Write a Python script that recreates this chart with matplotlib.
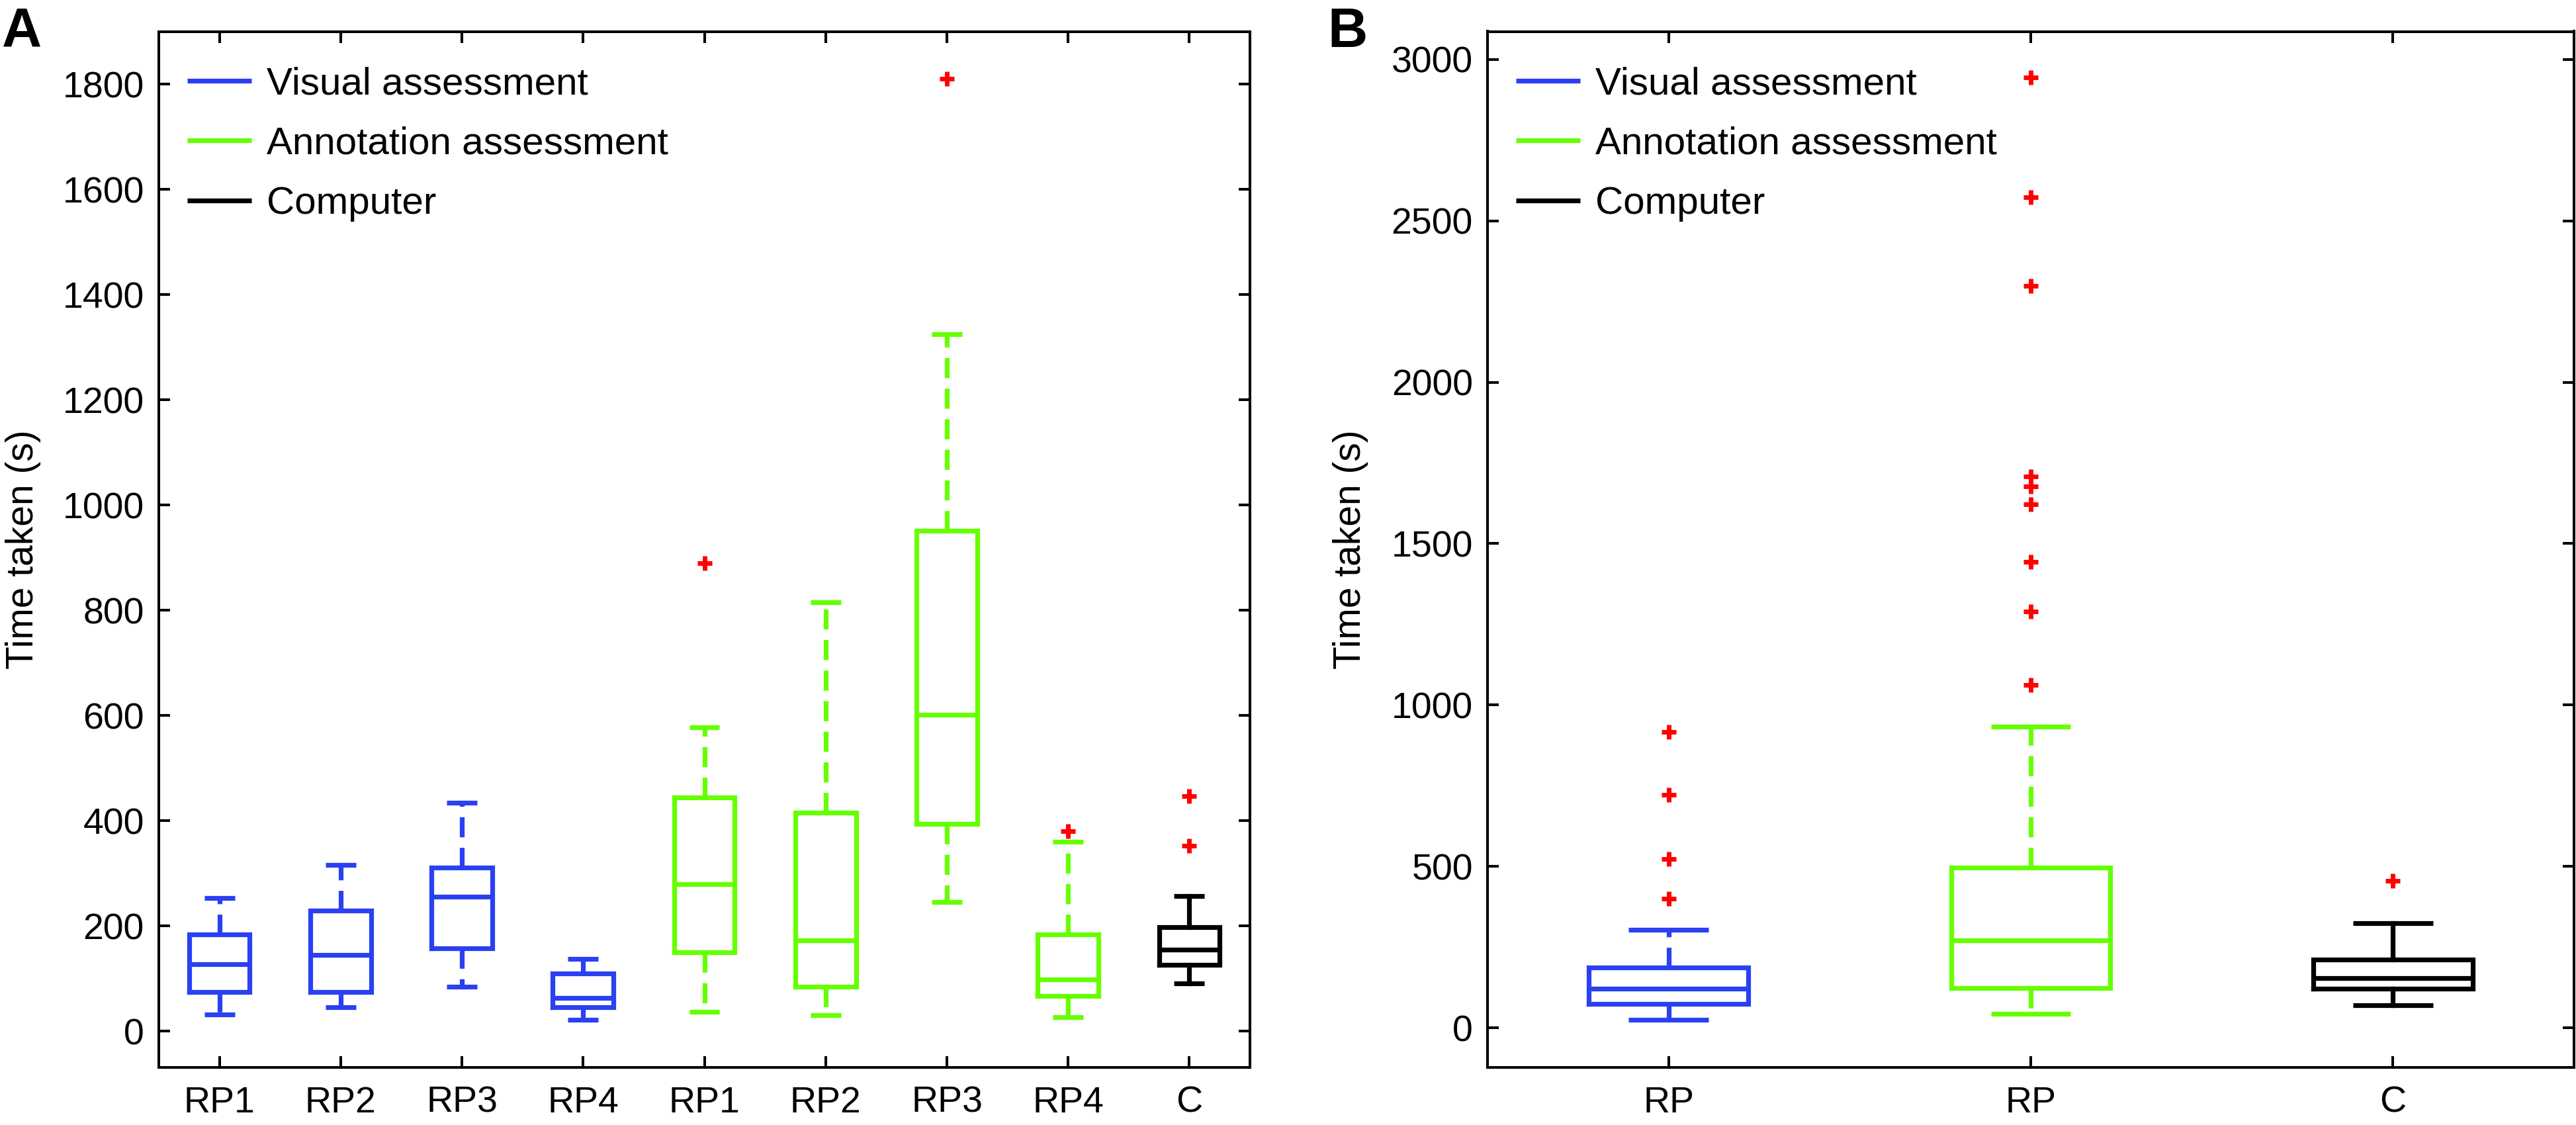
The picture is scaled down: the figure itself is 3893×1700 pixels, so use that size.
import matplotlib
matplotlib.use("Agg")
import matplotlib.pyplot as plt
from matplotlib.lines import Line2D

# ---------------- data ----------------
cats_A = ['RP1', 'RP2', 'RP3', 'RP4', 'RP1', 'RP2', 'RP3', 'RP4', 'C']
group_A = ['visual', 'visual', 'visual', 'visual',
           'annot', 'annot', 'annot', 'annot', 'computer']
whislo_A = [32, 45, 85, 21, 37, 30, 246, 26, 91]
q1_A = [74, 74, 158, 46, 150, 85, 394, 67, 126]
med_A = [127, 145, 255, 63, 280, 172, 602, 98, 155]
q3_A = [184, 229, 311, 109, 444, 415, 951, 184, 198]
whishi_A = [253, 316, 434, 137, 577, 815, 1325, 360, 257]
fliers_A = [[], [], [], [], [890], [], [1810], [380], [447, 352]]

cats_B = ['RP', 'RP', 'C']
group_B = ['visual', 'annot', 'computer']
whislo_B = [25, 43, 70]
q1_B = [73, 123, 121]
med_B = [120, 270, 154]
q3_B = [186, 496, 212]
whishi_B = [304, 933, 323]
fliers_B = [[916, 721, 522, 399],
            [1062, 1290, 1443, 1622, 1677, 1708, 2298, 2574, 2945],
            [456]]

legend_labels = ['Visual assessment', 'Annotation assessment', 'Computer']
ylabel = 'Time taken (s)'

colors = {'visual': '#2A40F2', 'annot': '#66FF00', 'computer': '#000000'}
legend_order = ['visual', 'annot', 'computer']

plt.rcParams['font.family'] = ['Liberation Sans', 'DejaVu Sans']

W, H = 3893, 1700
fig = plt.figure(figsize=(W / 100, H / 100), dpi=100)

LW = 5.2
SP = 2.9
FS = 40
LFS = 42


def ax_rect(l, r, t, b):
    return [l / W, 1 - b / H, (r - l) / W, (b - t) / H]


def draw(ax, cats, groups, wlo, q1, med, q3, whi, fl, width, capw, ylim, yticks):
    stats = []
    for i in range(len(cats)):
        stats.append(dict(whislo=wlo[i], q1=q1[i], med=med[i], q3=q3[i],
                          whishi=whi[i], fliers=fl[i], label=cats[i]))
    for i, st in enumerate(stats):
        c = colors[groups[i]]
        wls = '-' if groups[i] == 'computer' else (0, (4.2, 2.2))
        ax.bxp([st], positions=[i + 1], widths=width, capwidths=capw,
               showfliers=True,
               boxprops=dict(color=c, linewidth=LW, solid_joinstyle='miter'),
               medianprops=dict(color=c, linewidth=LW, solid_capstyle='butt'),
               whiskerprops=dict(color=c, linewidth=LW, linestyle=wls),
               capprops=dict(color=c, linewidth=LW, solid_capstyle='butt'),
               flierprops=dict(marker='+', markeredgecolor='red',
                               markersize=16, markeredgewidth=5,
                               linestyle='none'))
    ax.set_xlim(0.5, len(cats) + 0.5)
    ax.set_xticks(range(1, len(cats) + 1))
    ax.set_xticklabels(cats)
    ax.set_ylim(*ylim)
    ax.set_yticks(yticks)
    for s in ax.spines.values():
        s.set_linewidth(SP)
    ax.tick_params(axis='both', which='both', direction='in', length=12,
                   width=SP, top=True, right=True, labelsize=FS)
    ax.tick_params(axis='x', pad=20)
    ax.tick_params(axis='y', pad=16)
    handles = [Line2D([], [], color=colors[g], linewidth=LW, solid_capstyle='butt')
               for g in legend_order]
    ax.legend(handles, legend_labels, loc='upper left', frameon=False,
              fontsize=LFS, handlelength=1.66, handletextpad=0.4,
              labelspacing=0.62, borderpad=0, borderaxespad=0,
              bbox_to_anchor=(0.026, 0.966))
    ax.set_ylabel(ylabel, fontsize=41)


axA = fig.add_axes(ax_rect(240, 1889, 47.5, 1613))
draw(axA, cats_A, group_A, whislo_A, q1_A, med_A, q3_A, whishi_A, fliers_A,
     0.5, 0.25, (-69, 1900), list(range(0, 1801, 200)))
axA.yaxis.set_label_coords(-0.108, 0.5)

axB = fig.add_axes(ax_rect(2248, 3890, 47.5, 1613))
draw(axB, cats_B, group_B, whislo_B, q1_B, med_B, q3_B, whishi_B, fliers_B,
     0.44, 0.22, (-123, 3087), list(range(0, 3001, 500)))
axB.yaxis.set_label_coords(-0.1096, 0.5)

fig.text(3 / W, 1 - 10 / H, 'A', fontsize=60, fontweight='bold',
         ha='left', va='top')
fig.text(2006 / W, 1 - 10 / H, 'B', fontsize=60, fontweight='bold',
         ha='left', va='top')

fig.savefig('out.png', dpi=100)
